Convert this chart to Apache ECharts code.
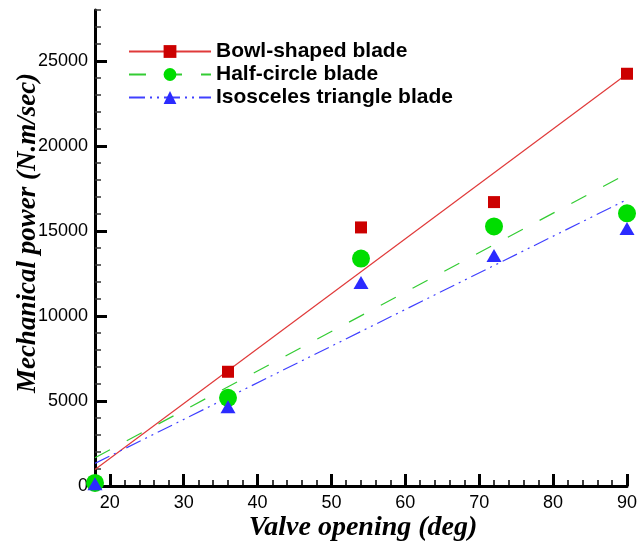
<!DOCTYPE html>
<html>
<head>
<meta charset="utf-8">
<script src="https://cdn.jsdelivr.net/npm/echarts@6/dist/echarts.min.js"></script>
<style>html,body{margin:0;padding:0;background:#fff}#c{width:642px;height:546px}</style>
</head>
<body>
<div id="c"></div>
<script>
// ---- data ----
const valveOpening = [18, 36, 54, 72, 90];
const bowlPower = [150, 6720, 15210, 16700, 24250];
const halfCirclePower = [180, 5190, 13380, 15270, 16040];
const trianglePower = [130, 4660, 11970, 13560, 15150];

// trend-line end points
const trendX = [18, 90];
const bowlTrend = [970, 24240];
const halfCircleTrend = [1660, 18370];
const triangleTrend = [1330, 16850];

// ticks
const xMajorTicks = [20, 30, 40, 50, 60, 70, 80, 90];
const xMinorTicks = [22, 24, 26, 28, 32, 34, 36, 38, 42, 44, 46, 48, 52, 54, 56, 58, 62, 64, 66, 68, 72, 74, 76, 78, 82, 84, 86, 88];
const yMajorTicks = [0, 5000, 10000, 15000, 20000, 25000];
const yMinorTicks = [1000, 2000, 3000, 4000, 6000, 7000, 8000, 9000, 11000, 12000, 13000, 14000, 16000, 17000, 18000, 19000, 21000, 22000, 23000, 24000, 26000, 27000, 28000];

const names = ['Bowl-shaped blade', 'Half-circle blade', 'Isosceles triangle blade'];

const pair = (xs, ys) => xs.map((x, i) => [x, ys[i]]);

const chart = echarts.init(document.getElementById('c'), null, {renderer: 'canvas'});
const labelFont = {fontFamily: 'Liberation Sans', fontSize: 18, color: '#000'};
const plain = v => String(v);

chart.setOption({
  animation: false,
  backgroundColor: '#fff',
  grid: {left: 95, right: 15, top: 10, bottom: 60, containLabel: false},
  xAxis: [
    {
      type: 'value', min: 18, max: 90, position: 'bottom',
      axisLine: {show: true, onZero: false, lineStyle: {color: '#000', width: 3}},
      axisTick: {show: true, inside: true, length: 12, customValues: xMajorTicks, lineStyle: {color: '#000', width: 3}},
      axisLabel: Object.assign({show: true, margin: 8, customValues: xMajorTicks, formatter: plain}, labelFont),
      splitLine: {show: false}
    },
    {
      type: 'value', min: 18, max: 90, position: 'bottom',
      axisLine: {show: false},
      axisTick: {show: true, inside: true, length: 6, customValues: xMinorTicks, lineStyle: {color: '#000', width: 1.5}},
      axisLabel: {show: false},
      splitLine: {show: false}
    }
  ],
  yAxis: [
    {
      type: 'value', min: 0, max: 28000, position: 'left',
      axisLine: {show: true, onZero: false, lineStyle: {color: '#000', width: 3}},
      axisTick: {show: true, inside: true, length: 12, customValues: yMajorTicks, lineStyle: {color: '#000', width: 3}},
      axisLabel: Object.assign({show: true, margin: 7, customValues: yMajorTicks, formatter: plain}, labelFont),
      splitLine: {show: false}
    },
    {
      type: 'value', min: 0, max: 28000, position: 'left',
      axisLine: {show: false},
      axisTick: {show: true, inside: true, length: 6, customValues: yMinorTicks, lineStyle: {color: '#333', width: 1.5}},
      axisLabel: {show: false},
      splitLine: {show: false}
    }
  ],
  legend: {
    orient: 'vertical', left: 128, top: 41, padding: 0,
    itemWidth: 82, itemHeight: 16, itemGap: 2,
    data: names,
    textStyle: {fontFamily: 'Liberation Sans', fontSize: 21, fontWeight: 'bold', color: '#000'}
  },
  graphic: [
    {type: 'text', x: 363, y: 528, style: {text: 'Valve opening (deg)', font: 'italic bold 28px "Liberation Serif"', fill: '#000', textAlign: 'center', textVerticalAlign: 'middle'}},
    {type: 'text', x: 28, y: 233, rotation: Math.PI / 2, style: {text: 'Mechanical power (N.m/sec)', font: 'italic bold 27px "Liberation Serif"', fill: '#000', textAlign: 'center', textVerticalAlign: 'middle'}}
  ],
  series: [
    {name: names[0], type: 'line', data: pair(trendX, bowlTrend), showSymbol: false, symbol: 'rect',
     lineStyle: {color: '#e03a3a', width: 1.2, type: 'solid'}, itemStyle: {color: '#cc0000'}, z: 2},
    {name: names[1], type: 'line', data: pair(trendX, halfCircleTrend), showSymbol: false, symbol: 'circle',
     lineStyle: {color: '#33cc33', width: 1.2, type: [17, 19]}, itemStyle: {color: '#00dd00'}, z: 2},
    {name: names[2], type: 'line', data: pair(trendX, triangleTrend), showSymbol: false, symbol: 'triangle',
     lineStyle: {color: '#4040ff', width: 1.2, type: [16, 5, 2, 5, 2, 5]}, itemStyle: {color: '#2b2bff'}, z: 2},
    {name: 'bowl-points', type: 'scatter', data: pair(valveOpening, bowlPower), symbol: 'rect', symbolSize: 12,
     itemStyle: {color: '#cc0000', opacity: 1}, clip: false, z: 3},
    {name: 'half-points', type: 'scatter', data: pair(valveOpening, halfCirclePower), symbol: 'circle', symbolSize: 18,
     itemStyle: {color: '#00dd00', opacity: 1}, clip: false, z: 4},
    {name: 'tri-points', type: 'scatter', data: pair(valveOpening, trianglePower), symbol: 'triangle', symbolSize: [15, 13],
     itemStyle: {color: '#2b2bff', opacity: 1}, clip: false, z: 5}
  ]
});
</script>
</body>
</html>
